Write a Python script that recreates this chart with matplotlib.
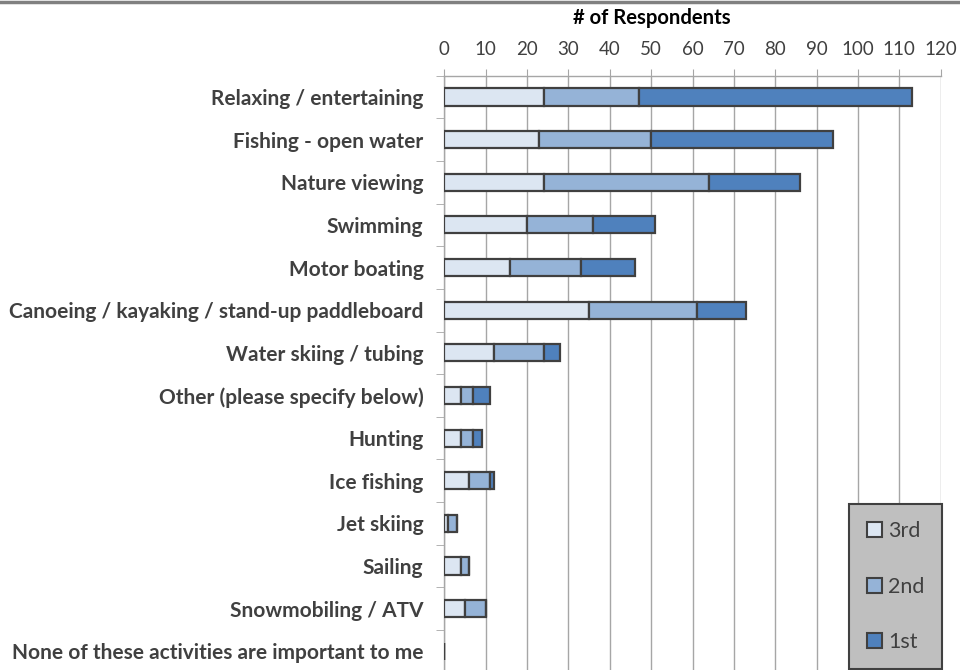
import numpy as np
import matplotlib.pyplot as plt
from matplotlib.patches import Patch

# data (top to bottom)
activities = [
    "Relaxing / entertaining",
    "Fishing - open water",
    "Nature viewing",
    "Swimming",
    "Motor boating",
    "Canoeing / kayaking / stand-up paddleboard",
    "Water skiing / tubing",
    "Other (please specify below)",
    "Hunting",
    "Ice fishing",
    "Jet skiing",
    "Sailing",
    "Snowmobiling / ATV",
    "None of these activities are important to me",
]
third = [24, 23, 24, 20, 16, 35, 12, 4, 4, 6, 1, 4, 5, 0]
second = [23, 27, 40, 16, 17, 26, 12, 3, 3, 5, 2, 2, 5, 0]
first = [66, 44, 22, 15, 13, 12, 4, 4, 2, 1, 0, 0, 0, 0]
series_names = ["3rd", "2nd", "1st"]
colors = ["#dce6f2", "#95b3d7", "#4f81bd"]

plt.rcParams['font.family'] = ['Lato', 'DejaVu Sans']
text_col = "#404040"
grid_col = "#a6a6a6"
W, H = 960, 670

fig = plt.figure(figsize=(W / 100, H / 100), dpi=100)
x0, x1 = 444.3, 940.7
y_top, y_bot = 75.7, 672.6
ax = fig.add_axes([x0 / W, 1 - y_bot / H, (x1 - x0) / W, (y_bot - y_top) / H])

y = np.arange(len(activities))
left = np.zeros(len(activities))
for vals, name, c in zip([third, second, first], series_names, colors):
    vals = np.array(vals, dtype=float)
    ax.barh(y, vals, left=left, height=0.4, color=c, edgecolor="#404040",
            linewidth=1.6, zorder=3, label=name)
    left += vals

ax.set_xlim(0, 120)
ax.set_ylim(len(activities) - 0.5, -0.5)
ax.set_xticks(np.arange(0, 121, 10))
ax.xaxis.tick_top()
ax.tick_params(axis='x', length=5, color=grid_col, labelsize=13.5,
               labelcolor=text_col, pad=8)
ax.grid(axis='x', color=grid_col, linewidth=1, zorder=0)

# category labels between the boundary ticks
ax.set_yticks(y)
ax.set_yticklabels(activities, fontweight='bold', fontsize=15, color=text_col)
ax.tick_params(axis='y', length=0, pad=15)
ax.set_yticks(np.arange(len(activities) + 1) - 0.5, minor=True)
ax.tick_params(axis='y', which='minor', length=6, color=grid_col)

for s in ['right', 'bottom']:
    ax.spines[s].set_visible(False)
for s in ['left', 'top']:
    ax.spines[s].set_color(grid_col)
    ax.spines[s].set_linewidth(1)

fig.text(652 / W, 1 - 17.5 / H, "# of Respondents", ha='center', va='center',
         fontweight='bold', fontsize=14.6, color="black")

# thin gray rule at the very top
fig.add_artist(plt.Line2D([0, 1], [1 - 1.5 / H, 1 - 1.5 / H], color="#808080",
                          linewidth=2.5, transform=fig.transFigure))

handles = [Patch(facecolor=c, edgecolor="#404040", linewidth=1.5) for c in colors]
leg = ax.legend(handles, series_names, loc='upper left',
                bbox_to_anchor=(849.3 / W, 1 - 504 / H), bbox_transform=fig.transFigure,
                borderaxespad=0, fontsize=15.5, labelspacing=1.65, borderpad=0.8,
                handlelength=0.7, handleheight=0.7, handletextpad=0.3,
                fancybox=False, framealpha=1, facecolor="#bfbfbf", edgecolor="#404040",
                labelcolor=text_col)
leg.get_frame().set_linewidth(1.5)

plt.savefig("out.png", dpi=100)
